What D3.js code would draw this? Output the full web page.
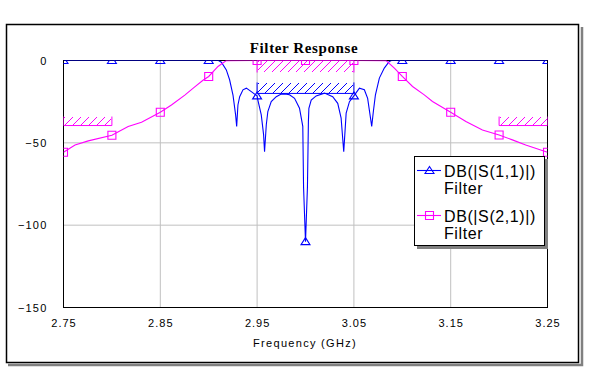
<!DOCTYPE html>
<html><head><meta charset="utf-8">
<script src="https://cdn.jsdelivr.net/npm/d3@7"></script>
<style>body{margin:0;background:#fff}svg{display:block}</style>
</head><body><svg id="c" width="589" height="390"></svg>
<script>
// ---- data ----
const xTicks = [2.75, 2.85, 2.95, 3.05, 3.15, 3.25];
const yTicks = [0, -50, -100, -150];
const gridX = [2.85, 2.95, 3.05, 3.15];
const gridY = [-50, -100];

const s11Points = [
 [2.75,0],[2.80,0],[2.85,0],[2.90,0],[2.910,0],[2.9131,-1],[2.9182,-5.7],[2.9216,-11.7],
 [2.9251,-21],[2.9278,-33],[2.9289,-40],[2.9302,-27],[2.9320,-22],[2.9354,-17.8],[2.9389,-16.8],
 [2.9440,-18.9],[2.95,-21.5],[2.9508,-24],[2.9543,-33],[2.9567,-45],[2.9577,-55.4],[2.9595,-39],
 [2.9611,-31],[2.9646,-25],[2.9698,-22],[2.9749,-20.4],[2.9784,-20.3],[2.9835,-20.8],[2.9887,-23],
 [2.9938,-29],[2.9972,-40],[2.998,-77],[3.00,-110],[3.002,-77],[3.003,-37],[3.0035,-29],
 [3.0059,-24],[3.0110,-21.5],[3.0196,-19.8],[3.0281,-22],[3.0333,-26],[3.0368,-35],[3.0395,-55.4],
 [3.0420,-32],[3.0454,-25],[3.05,-21.5],[3.0557,-16.8],[3.0608,-17.8],[3.0642,-23],[3.0684,-40],
 [3.0701,-31],[3.0722,-21],[3.0763,-10.7],[3.0814,-4.6],[3.0866,-0.6],[3.0887,0],[3.10,0],
 [3.15,0],[3.20,0],[3.25,0]
];
const s21Points = [
 [2.75,-55.7],[2.7619,-51.3],[2.7756,-48.8],[2.80,-45.4],[2.8168,-40.1],[2.8306,-37.5],[2.85,-31.4],
 [2.8615,-27],[2.8753,-21],[2.8856,-16],[2.8941,-12],[2.90,-9.7],[2.9096,-3.6],[2.9182,-0.1],
 [2.95,0],[3.00,0],[3.05,0],[3.0832,-0.1],[3.0918,-4.6],[3.10,-9.7],[3.1106,-15.8],[3.1227,-20.9],
 [3.1312,-24.9],[3.15,-31.4],[3.1657,-37.1],[3.1828,-42.2],[3.20,-45.2],[3.2137,-48.2],
 [3.2275,-51.3],[3.25,-55.7]
];

const maskSeries = ["S21", "S21", "S21", "S11"];
const maskStart  = [2.75, 3.20, 2.95, 2.95];
const maskStop   = [2.80, 3.25, 3.05, 3.05];
const maskLevel  = [-39.5, -39.5, 0, -20];
const maskSide   = ["above", "above", "below", "above"];

const legendLabels = ["DB(|S(1,1)|)", "DB(|S(2,1)|)"];
const legendSub = ["Filter", "Filter"];

// ---- drawing ----
const svg = d3.select("#c");
const BLUE = "#0000ff", MAG = "#ff00ff";
const colorOf = {S11: BLUE, S21: MAG};
const hatchH = [9, 9, 12, 11];

const L = 63.5, R = 547.5, T = 60.5, B = 307.5;
const x = d3.scaleLinear().domain([2.75, 3.25]).range([L, R]);
const y = d3.scaleLinear().domain([-150, 0]).range([B, T]);

// outer frame with shadow
svg.append("path").attr("d", "M8,365 H582 V27").attr("fill","none").attr("stroke","#808080").attr("stroke-width",2.5);
svg.append("rect").attr("x",6.5).attr("y",24.5).attr("width",572).attr("height",338)
  .attr("fill","#fff").attr("stroke","#000").attr("stroke-width",1.5);

// grid
svg.append("g").selectAll("line").data(gridX).join("line")
  .attr("x1",d=>x(d)).attr("x2",d=>x(d)).attr("y1",T).attr("y2",B)
  .attr("stroke","#c0c0c0").attr("stroke-width",1);
svg.append("g").selectAll("line").data(gridY).join("line")
  .attr("y1",d=>y(d)).attr("y2",d=>y(d)).attr("x1",L).attr("x2",R)
  .attr("stroke","#c0c0c0").attr("stroke-width",1);

// plot frame
svg.append("rect").attr("x",L).attr("y",T).attr("width",R-L).attr("height",B-T)
  .attr("fill","none").attr("stroke","#000").attr("stroke-width",1);

// axes labels
const fontSans = "'Liberation Sans', Arial, sans-serif";
const yAxis = svg.append("g").attr("transform",`translate(${L-16},0)`)
  .call(d3.axisLeft(y).tickValues(yTicks).tickSize(0).tickPadding(0).tickFormat(d3.format("d")));
yAxis.select(".domain").remove();
yAxis.selectAll("text").attr("font-family",fontSans).attr("font-size",11).attr("letter-spacing","1.2px").attr("fill","#000");
const xAxis = svg.append("g").attr("transform",`translate(0,${B+12})`)
  .call(d3.axisBottom(x).tickValues(xTicks).tickSize(0).tickPadding(0).tickFormat(d3.format(".2f")));
xAxis.select(".domain").remove();
xAxis.selectAll("text").attr("font-family",fontSans).attr("font-size",11).attr("letter-spacing","1px").attr("fill","#000");

svg.append("text").attr("x",305).attr("y",347).attr("text-anchor","middle")
  .attr("font-family",fontSans).attr("font-size",11).attr("letter-spacing","1.3px").text("Frequency (GHz)");
svg.append("text").attr("x",304).attr("y",52.5).attr("text-anchor","middle")
  .attr("font-family","'Liberation Serif','Times New Roman',serif").attr("font-weight","bold")
  .attr("font-size",15).attr("letter-spacing","0.6px").text("Filter Response");

// clipped plot viewport (nested svg clips its content)
const plot = svg.append("svg").attr("x",L).attr("y",T).attr("width",R-L).attr("height",B-T)
  .attr("viewBox",`${L} ${T} ${R-L} ${B-T}`).attr("overflow","hidden");

// masks: pixel-stepped diagonal hatching
maskSeries.forEach((s,i) => {
  const c = colorOf[s];
  const x1 = x(maskStart[i]), x2 = x(maskStop[i]), yl = y(maskLevel[i]);
  const h = hatchH[i];
  const yTop = maskSide[i] === "above" ? yl - h : yl;
  const yBot = yTop + h;
  const px0 = Math.ceil(x1), px1 = Math.floor(x2), pyB = Math.floor(yBot);
  let d = "";
  for (let a = px0 - h + 2; a < px1; a += 8) {
    for (let j = 0; j < h - 1; j++) {
      const px = a + j, py = pyB - 1 - j;
      if (px >= px0 && px < px1) d += `M${px},${py}h1v1h-1z`;
    }
  }
  plot.append("path").attr("d",d).attr("fill",c).attr("shape-rendering","crispEdges");
  plot.append("path").attr("d",`M${x1},${yTop} V${yBot} M${x2},${yTop} V${yBot} M${x1},${yl} H${x2}`)
    .attr("stroke",c).attr("stroke-width",1).attr("fill","none");
});

// series + markers
const triPath = "M0,-4 L4.5,3 L-4.5,3 Z";
const sqPath = "M-4,-4 H4 V4 H-4 Z";
const isMarker = f => Math.abs(f*20 - Math.round(f*20)) < 1e-6;
const line = d3.line().x(d=>x(d[0])).y(d=>y(d[1]));

function drawSeries(pts, color, mpath) {
  plot.append("path").datum(pts).attr("d",line).attr("fill","none")
    .attr("stroke",color).attr("stroke-width",1.1);
  plot.append("g").selectAll("path").data(pts.filter(d=>isMarker(d[0]))).join("path")
    .attr("d",mpath).attr("transform",d=>`translate(${x(d[0])},${y(d[1])})`)
    .attr("fill","none").attr("stroke",color).attr("stroke-width",1.1);
}
drawSeries(s11Points, BLUE, triPath);
drawSeries(s21Points, MAG, sqPath);

// legend
const lg = svg.append("g");
lg.append("path").attr("d","M546.5,159 V247.5 H417").attr("fill","none").attr("stroke","#808080").attr("stroke-width",3);
lg.append("rect").attr("x",414.5).attr("y",156.5).attr("width",130).attr("height",89)
  .attr("fill","#fff").attr("stroke","#000").attr("stroke-width",1);
const legColors = [BLUE, MAG], legMarks = [triPath, sqPath], legY = [170.5, 215.5];
legendLabels.forEach((t,i) => {
  lg.append("line").attr("x1",417).attr("x2",441).attr("y1",legY[i]).attr("y2",legY[i])
    .attr("stroke",legColors[i]).attr("stroke-width",1.1);
  lg.append("path").attr("d",legMarks[i]).attr("transform",`translate(429.5,${legY[i]})`)
    .attr("fill","none").attr("stroke",legColors[i]).attr("stroke-width",1.1);
  lg.append("text").attr("x",444).attr("y",legY[i]+6).attr("font-family",fontSans)
    .attr("font-size",16).attr("letter-spacing","0.6px").text(t);
  lg.append("text").attr("x",444).attr("y",legY[i]+23).attr("font-family",fontSans)
    .attr("font-size",16).attr("letter-spacing","0.6px").text(legendSub[i]);
});
</script></body></html>
